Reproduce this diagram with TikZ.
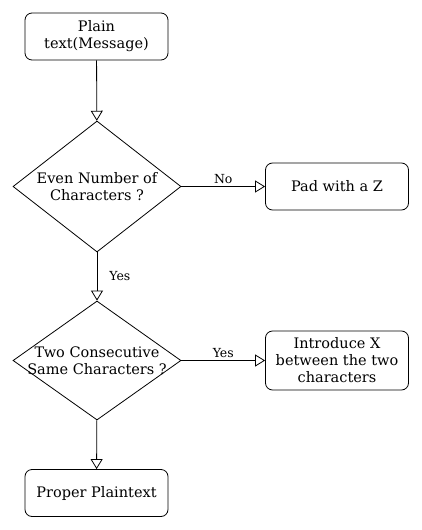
\documentclass[tikz,border=0pt]{standalone}
\usepackage{fontspec}
\setmainfont{DejaVu Serif}
\usetikzlibrary{arrows.meta,shapes.geometric,positioning}

\tikzset{
  box/.style={draw,rounded corners=7pt,minimum width=143pt,minimum height=47pt,
    align=center,inner sep=2pt,font=\fontsize{14.5}{17}\selectfont},
  decision/.style={draw,shape=diamond,inner sep=0pt,minimum width=168pt},
  qtext/.style={align=center,font=\fontsize{14.5}{17}\selectfont},
  lbl/.style={font=\fontsize{12.5}{14}\selectfont,inner sep=2pt},
  flow/.style={-{Triangle[open,width=12pt,length=10pt]},line width=0.8pt}
}

\begin{document}
\begin{tikzpicture}[x=1pt,y=-1pt,line width=0.8pt]
	  \useasboundingbox (0,0) rectangle (422,530);
	  \node[box] (plain) at (96.5,36.5) {Plain\\text(Message)};
	  \node[decision,minimum height=131pt] (even) at (97,186.5) {};
	  \node[qtext] (evenq) at (even.center) {Even Number of\\Characters ?};
	  \node[box] (pad) at (337,186.5) {Pad with a Z};
	  \node[decision,minimum height=119pt] (same) at (97,360.5) {};
	  \node[qtext] (sameq) at (same.center) {Two Consecutive\\Same Characters ?};
	  \node[box,minimum height=59pt] (intro) at (337,360.5) {Introduce X\\between the two\\characters};
	  \node[box] (proper) at (96.5,493) {Proper Plaintext};

	  \draw[flow] (plain) -- (even);
	  \draw[flow] (even) -- node[lbl,above] {No} (pad);
	  \draw[flow] (even) -- node[lbl,right=10pt] {Yes} (same);
	  \draw[flow] (same) -- node[lbl,above] {Yes} (intro);
	  \draw[flow] (same) -- (proper);
\end{tikzpicture}
\end{document}
